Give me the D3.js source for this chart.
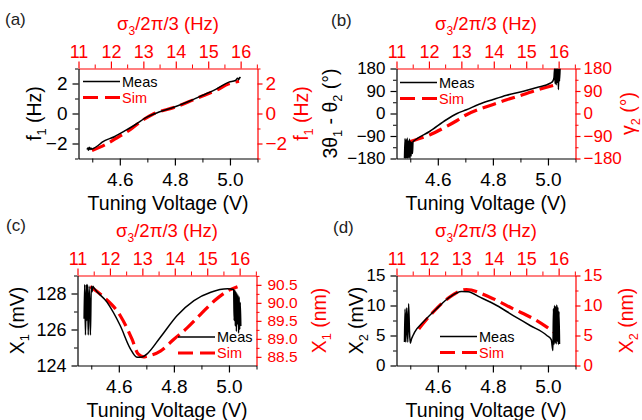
<!DOCTYPE html>
<html>
<head>
<script src="https://d3js.org/d3.v7.min.js"></script>
<style>
  body { margin: 0; background: #fff; }
  svg { display: block; font-family: "Liberation Sans", Arial, sans-serif; }
</style>
</head>
<body>
<script>
// ---- values ----
// shared x axes
var voltDomain = [4.45, 5.1];
var sigmaDomain = [11, 16.52];
var voltMajor = [4.6, 4.8, 5.0];
var voltMinor = [4.5, 4.7, 4.9, 5.1];
var sigmaMajor = [11, 12, 13, 14, 15, 16];
var sigmaMinor = [11.5, 12.5, 13.5, 14.5, 15.5, 16.5];

// (a) f1 (Hz)
var measA_V = [4.481, 4.484, 4.486, 4.489, 4.492, 4.495, 4.498, 4.502, 4.52, 4.536, 4.58, 4.621, 4.66, 4.693, 4.74, 4.796, 4.85, 4.899, 4.95, 4.996, 5.02, 5.028, 5.032, 5.035, 5.039];
var measA_f = [-2.4, -2.3, -2.45, -2.25, -2.4, -2.3, -2.38, -2.35, -2.15, -1.91, -1.55, -1.13, -0.7, -0.29, 0.08, 0.42, 0.8, 1.2, 1.62, 2.09, 2.2, 2.35, 2.25, 2.4, 2.38];
var simA_V = [4.499, 4.55, 4.59, 4.64, 4.681, 4.72, 4.8, 4.85, 4.9, 4.95, 4.996, 5.033];
var simA_f = [-2.47, -2.05, -1.62, -1.05, -0.47, -0.05, 0.42, 0.78, 1.17, 1.55, 1.98, 2.15];

// (b) 3θ1 - θ2 and γ2 (deg)
var measB_V = [4.479, 4.481, 4.483, 4.485, 4.487, 4.489, 4.491, 4.493, 4.495, 4.497, 4.499, 4.501, 4.503, 4.505, 4.508, 4.51, 4.52, 4.57, 4.631, 4.67, 4.704, 4.75, 4.801, 4.85, 4.911, 4.96, 5.008, 5.018, 5.022, 5.024, 5.026, 5.028, 5.03, 5.032, 5.034, 5.036, 5.038, 5.04, 5.042, 5.044];
var measB_deg = [-180, -100, -180, -105, -178, -98, -180, -110, -175, -102, -180, -112, -170, -115, -160, -113, -104, -72, -25, 0, 15, 37, 56, 73, 89, 104, 121, 130, 145, 180, 120, 180, 115, 180, 125, 180, 96, 178, 130, 180];
var simB_V = [4.50, 4.57, 4.631, 4.67, 4.704, 4.75, 4.801, 4.85, 4.911, 4.96, 5.033];
var simB_deg = [-112, -86, -52, -28, -5, 17, 36, 55, 76, 94, 116];

// (c) X1 (mV) measured, X1 (nm) simulated
var measC_V = [4.474, 4.476, 4.479, 4.482, 4.484, 4.486, 4.489, 4.492, 4.495, 4.497, 4.5, 4.503, 4.506, 4.508, 4.557, 4.605, 4.642, 4.666, 4.685, 4.703, 4.751, 4.812, 4.873, 4.934, 4.995, 5.017, 5.019, 5.021, 5.023, 5.025, 5.027, 5.029, 5.031, 5.033, 5.035, 5.037, 5.039, 5.041, 5.043];
var measC_mV = [126.6, 128.5, 125.7, 128.5, 126.5, 128.5, 125.7, 128.4, 127.0, 125.7, 128.4, 128.1, 128.4, 128.35, 127.52, 126.22, 124.93, 124.46, 124.47, 124.65, 125.57, 126.78, 127.61, 128.07, 128.26, 128.22, 126.5, 128.2, 126.2, 128.1, 125.9, 128.0, 126.3, 127.9, 125.8, 127.8, 126.0, 127.5, 126.2];
var simC_V = [4.496, 4.544, 4.605, 4.648, 4.67, 4.69, 4.703, 4.751, 4.8, 4.849, 4.897, 4.946, 4.995, 5.031];
var simC_nm = [90.45, 90.17, 89.65, 88.99, 88.58, 88.5, 88.52, 88.66, 88.99, 89.31, 89.68, 90.05, 90.33, 90.45];

// (d) X2 (mV) measured, X2 (nm) simulated
var measD_V = [4.479, 4.481, 4.484, 4.487, 4.491, 4.494, 4.497, 4.5, 4.505, 4.51, 4.516, 4.546, 4.595, 4.643, 4.686, 4.71, 4.753, 4.814, 4.874, 4.935, 4.996, 5.012, 5.018, 5.02, 5.022, 5.024, 5.026, 5.028, 5.03, 5.032, 5.034, 5.036, 5.038, 5.04, 5.042];
var measD_mV = [3.9, 9.4, 3.9, 9.6, 3.9, 10.3, 6.0, 3.7, 4.5, 5.0, 5.56, 7.2, 9.44, 11.39, 12.33, 12.3, 11.39, 10.0, 8.33, 6.67, 5.0, 4.3, 2.5, 9.5, 3.5, 10.0, 3.8, 9.8, 3.6, 10.1, 4.0, 9.7, 3.5, 9.0, 3.6];
var simD_V = [4.531, 4.583, 4.643, 4.704, 4.789, 4.874, 4.947, 4.996, 5.039];
var simD_nm = [6.1, 8.9, 11.4, 12.67, 11.39, 9.44, 7.8, 6.39, 5.0];

var RED = "#ff0000";
var W = 179, H = 90;

var svg = d3.select("body").append("svg")
    .attr("width", 642)
    .attr("height", 420);

function zip(xs, ys) {
    return xs.map(function(v, i) { return [v, ys[i]]; });
}

// text with subscripts: parts are strings or {sub: "1"}
function richText(t, parts, size) {
    var shift = 0;
    parts.forEach(function(p) {
        var isSub = typeof p !== "string";
        var target = isSub ? size * 0.3 : 0;
        t.append("tspan")
            .attr("dy", target - shift)
            .attr("font-size", isSub ? size * 0.65 : size)
            .text(isSub ? p.sub : p);
        shift = target;
    });
}

function panel(opt) {
    var x = d3.scaleLinear().domain(voltDomain).range([0, W]);
    var xTop = d3.scaleLinear().domain(sigmaDomain).range([0, W]);
    var yL = d3.scaleLinear().domain(opt.yL).range([H, 0]);
    var yR = d3.scaleLinear().domain(opt.yR).range([H, 0]);

    var g = svg.append("g")
        .attr("transform", "translate(" + opt.left + "," + opt.top + ")");

    // minor ticks first, then majors with the axis line
    function axis(gen, scale, major, minor, size, fmt, color, transform, fs) {
        g.append("g").attr("transform", transform).attr("color", color)
            .call(gen(scale).tickValues(minor).tickSize(size[1]).tickFormat(""))
            .call(function(s) { s.select(".domain").remove(); });
        var a = g.append("g").attr("transform", transform).attr("color", color)
            .call(gen(scale).tickValues(major).tickSize(size[0]).tickSizeOuter(0)
                .tickPadding(size[2]).tickFormat(fmt));
        a.selectAll("text").attr("font-size", fs).attr("font-family", null);
        a.attr("font-family", null).attr("font-size", null);
        a.selectAll("line, path").attr("stroke-width", 1.2);
        return a;
    }

    axis(d3.axisBottom, x, voltMajor, voltMinor, [7, 4, 7], d3.format(".1f"), "#000", "translate(0," + H + ")", 19);
    axis(d3.axisTop, xTop, sigmaMajor, sigmaMinor, [7, 4, 4], d3.format("d"), RED, "translate(0,0)", 18);
    axis(d3.axisLeft, yL, opt.yLMajor, opt.yLMinor, [6, 3.5, 5], opt.yLFmt, "#000", "translate(0,0)", opt.tickFs);
    axis(d3.axisRight, yR, opt.yRMajor, opt.yRMinor, [5, 3, opt.rPad], opt.yRFmt, RED, "translate(" + W + ",0)", opt.rTickFs);

    // clip for the traces
    var clipId = "clip-" + opt.name;
    g.append("clipPath").attr("id", clipId)
        .append("rect").attr("width", W).attr("height", H);

    var lineL = d3.line().curve(d3.curveMonotoneX)
        .x(function(d) { return x(d[0]); }).y(function(d) { return yL(d[1]); });
    var lineR = d3.line().curve(d3.curveMonotoneX)
        .x(function(d) { return x(d[0]); }).y(function(d) { return yR(d[1]); });

    g.append("path")
        .datum(zip(opt.simV, opt.simY))
        .attr("clip-path", "url(#" + clipId + ")")
        .attr("fill", "none")
        .attr("stroke", RED)
        .attr("stroke-width", 3.2)
        .attr("stroke-dasharray", "14,6")
        .attr("d", lineR);

    g.append("path")
        .datum(zip(opt.measV, opt.measY))
        .attr("clip-path", "url(#" + clipId + ")")
        .attr("fill", "none")
        .attr("stroke", "#000")
        .attr("stroke-width", 1.5)
        .attr("stroke-linejoin", "round")
        .attr("d", lineL);

    // legend
    var lg = g.append("g").attr("transform", "translate(" + opt.legend[0] + "," + opt.legend[1] + ")");
    lg.append("line").attr("x1", 0).attr("x2", 37).attr("y1", 0).attr("y2", 0)
        .attr("stroke", "#000").attr("stroke-width", 1.3);
    lg.append("text").attr("x", 39).attr("y", 0).attr("dy", "0.35em")
        .attr("font-size", 14.5).attr("fill", "#000").text("Meas");
    lg.append("line").attr("x1", 0).attr("x2", 37).attr("y1", 16).attr("y2", 16)
        .attr("stroke", RED).attr("stroke-width", 3.2).attr("stroke-dasharray", "15,7");
    lg.append("text").attr("x", 39).attr("y", 16).attr("dy", "0.35em")
        .attr("font-size", 14.5).attr("fill", RED).text("Sim");

    // axis titles
    var t;
    t = g.append("text").attr("x", W / 2).attr("y", H + 51)
        .attr("text-anchor", "middle").attr("font-size", 19.5).attr("fill", "#000");
    richText(t, ["Tuning Voltage (V)"], 19.5);

    t = g.append("text").attr("x", W / 2).attr("y", -39)
        .attr("text-anchor", "middle").attr("font-size", 18.5).attr("fill", RED);
    richText(t, ["\u03c3", {sub: "3"}, "/2\u03c0/3 (Hz)"], 18.5);

    t = g.append("text")
        .attr("transform", "translate(" + opt.leftTitleX + "," + H / 2 + ") rotate(-90)")
        .attr("text-anchor", "middle").attr("font-size", 19.5).attr("fill", "#000");
    richText(t, opt.leftTitle, 19.5);

    t = g.append("text")
        .attr("transform", "translate(" + opt.rightTitleX + "," + H / 2 + ") rotate(-90)")
        .attr("text-anchor", "middle").attr("font-size", 19.5).attr("fill", RED);
    richText(t, opt.rightTitle, 19.5);

    // panel letter
    svg.append("text").attr("x", opt.letterPos[0]).attr("y", opt.letterPos[1])
        .attr("font-size", 17).attr("fill", "#222").text(opt.letter);
}

panel({
    name: "a", letter: "(a)", letterPos: [5, 25],
    left: 78.5, top: 68.5,
    yL: [-3, 3], yLMajor: [-2, 0, 2], yLMinor: [-3, -1, 1, 3], yLFmt: d3.format("d"),
    yR: [-3, 3], yRMajor: [-2, 0, 2], yRMinor: [-3, -1, 1, 3], yRFmt: d3.format("d"),
    tickFs: 19, rTickFs: 19, rPad: 3,
    measV: measA_V, measY: measA_f, simV: simA_V, simY: simA_f,
    legend: [4.5, 13],
    leftTitle: ["f", {sub: "1"}, " (Hz)"], leftTitleX: -38,
    rightTitle: ["f", {sub: "1"}, " (Hz)"], rightTitleX: W + 50
});

panel({
    name: "b", letter: "(b)", letterPos: [331, 26],
    left: 396.5, top: 68.5,
    yL: [-180, 180], yLMajor: [-180, -90, 0, 90, 180], yLMinor: [-135, -45, 45, 135], yLFmt: d3.format("d"),
    yR: [-180, 180], yRMajor: [-180, -90, 0, 90, 180], yRMinor: [-135, -45, 45, 135], yRFmt: d3.format("d"),
    tickFs: 17, rTickFs: 17, rPad: 3,
    measV: measB_V, measY: measB_deg, simV: simB_V, simY: simB_deg,
    legend: [3.5, 14],
    leftTitle: ["3\u03b8", {sub: "1"}, " - \u03b8", {sub: "2"}, " (\u00b0)"], leftTitleX: -60,
    rightTitle: ["\u03b3", {sub: "2"}, " (\u00b0)"], rightTitleX: W + 59
});

panel({
    name: "c", letter: "(c)", letterPos: [6, 231],
    left: 77.5, top: 275.5,
    yL: [124, 129], yLMajor: [124, 126, 128], yLMinor: [125, 127, 129], yLFmt: d3.format("d"),
    yR: [88.26, 90.76], yRMajor: [88.5, 89, 89.5, 90, 90.5], yRMinor: [88.75, 89.25, 89.75, 90.25, 90.75], yRFmt: d3.format(".1f"),
    tickFs: 18, rTickFs: 15.5, rPad: 6,
    measV: measC_V, measY: measC_mV, simV: simC_V, simY: simC_nm,
    legend: [100.5, 61.5],
    leftTitle: ["X", {sub: "1"}, " (mV)"], leftTitleX: -54,
    rightTitle: ["X", {sub: "1"}, " (nm)"], rightTitleX: W + 69
});

panel({
    name: "d", letter: "(d)", letterPos: [333, 233],
    left: 396.5, top: 275.5,
    yL: [0, 15], yLMajor: [0, 5, 10, 15], yLMinor: [2.5, 7.5, 12.5], yLFmt: d3.format("d"),
    yR: [0, 15], yRMajor: [0, 5, 10, 15], yRMinor: [2.5, 7.5, 12.5], yRFmt: d3.format("d"),
    tickFs: 17, rTickFs: 17, rPad: 3,
    measV: measD_V, measY: measD_mV, simV: simD_V, simY: simD_nm,
    legend: [43.5, 61],
    leftTitle: ["X", {sub: "2"}, " (mV)"], leftTitleX: -34,
    rightTitle: ["X", {sub: "2"}, " (nm)"], rightTitleX: W + 57
});
</script>
</body>
</html>
